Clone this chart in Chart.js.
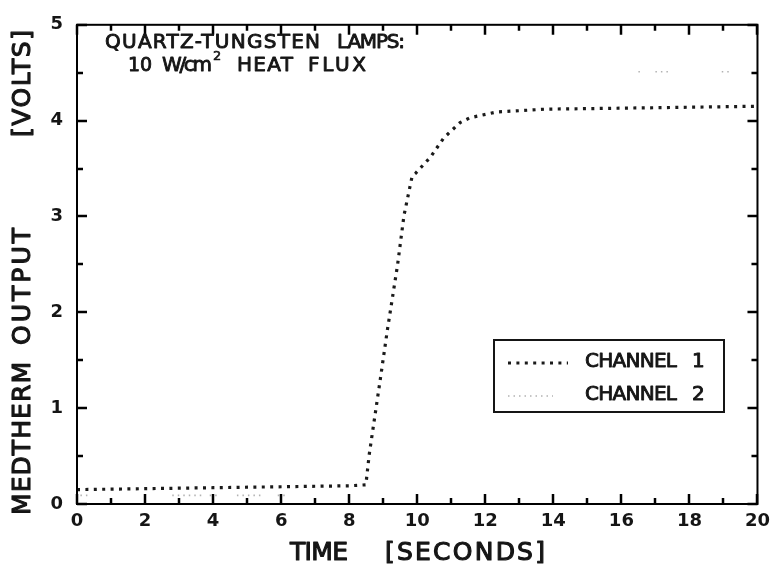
<!DOCTYPE html>
<html>
<head>
<meta charset="utf-8">
<title>Medtherm output vs time</title>
<script src="https://cdn.jsdelivr.net/npm/chart.js@4/dist/chart.umd.min.js"></script>
<style>
  html, body { margin: 0; padding: 0; background: #fff; }
  #wrap { width: 777px; height: 573px; position: relative; }
</style>
</head>
<body>
<div id="wrap"><canvas id="chart" width="777" height="573"></canvas></div>
<script>
// Channel 1: sensor output (V) against time (s)
const timeCh1  = [0, 2, 4, 6, 8, 8.49, 8.59, 8.93, 9.12, 9.42, 9.61, 9.85, 9.95, 10.39, 10.78, 11.26, 11.55, 12.33, 13.79, 16, 18, 20];
const voltsCh1 = [0.15, 0.16, 0.17, 0.18, 0.19, 0.20, 0.52, 1.34, 1.81, 2.49, 3.01, 3.42, 3.45, 3.62, 3.82, 3.98, 4.03, 4.09, 4.12, 4.13, 4.14, 4.15];

// Channel 2: faint trace, only the recorded fragments (null = break in the trace)
const timeCh2  = [0.1, 0.4, 0.5, 2.8, 3.7, 3.75, 3.9, 4.2, 4.3, 4.7, 5.5, 5.6, 5.9, 6.2, 6.3, 16.5, 16.65, 16.7, 17.0, 17.4, 17.5, 18.95, 19.25];
const voltsCh2 = [0.09, 0.09, null, 0.09, 0.09, null, 0.09, 0.09, null, 0.09, 0.09, null, 0.09, 0.09, null, 4.51, 4.51, null, 4.51, 4.51, null, 4.51, 4.51];

const seriesNames = ['CHANNEL 1', 'CHANNEL 2'];
const timeTicks = [0, 2, 4, 6, 8, 10, 12, 14, 16, 18, 20];
const voltTicks = [0, 1, 2, 3, 4, 5];

const INK = '#151515';
const FONT = '"DejaVu Sans", "Liberation Sans", sans-serif';

// Draw one word so that it spans x0..x1, slightly emboldened with a thin stroke
function word(ctx, text, x0, x1, y, size) {
  ctx.save();
  ctx.font = size + 'px ' + FONT;
  ctx.textAlign = 'left';
  ctx.textBaseline = 'middle';
  if ('letterSpacing' in ctx) {
    ctx.letterSpacing = '0px';
    const w0 = ctx.measureText(text).width;
    const n = [...text].length;
    const ls = n > 1 ? (x1 - x0 - w0) / (n - 1) : 0;
    ctx.letterSpacing = ls.toFixed(2) + 'px';
  }
  ctx.lineWidth = size / 22;
  ctx.lineJoin = 'round';
  ctx.strokeText(text, x0, y);
  ctx.fillText(text, x0, y);
  ctx.restore();
}

// Pixel for a value on a scale, falling back to the scale's own extent
function pix(scale, v, lo, hi, p0, p1) {
  const p = scale.getPixelForValue(v);
  return Number.isFinite(p) ? p : p0 + (v - lo) / (hi - lo) * (p1 - p0);
}

// Box frame with inward ticks on all four sides
const boxTicks = {
  id: 'boxTicks',
  afterDraw(chart) {
    const ctx = chart.ctx;
    const a = chart.chartArea;
    const xs = chart.scales.x, ys = chart.scales.y;
    const tLo = timeTicks[0], tHi = timeTicks[timeTicks.length - 1];
    const vLo = voltTicks[0], vHi = voltTicks[voltTicks.length - 1];
    ctx.save();
    ctx.setLineDash([]);
    ctx.globalAlpha = 1;
    ctx.globalCompositeOperation = 'source-over';
    ctx.fillStyle = '#000';
    ctx.strokeStyle = '#000';
    ctx.lineCap = 'butt';
    ctx.lineWidth = 2.5;
    ctx.beginPath();
    for (let v = tLo; v <= tHi; v += 1) {
      const px = Math.round(pix(xs, v, tLo, tHi, a.left, a.right));
      const len = (v % 2 === 0) ? 10 : 6;
      ctx.moveTo(px, a.bottom); ctx.lineTo(px, a.bottom - len);
      ctx.moveTo(px, a.top); ctx.lineTo(px, a.top + len);
    }
    for (let k = vLo * 2; k <= vHi * 2; k += 1) {
      const py = Math.round(pix(ys, k / 2, vLo, vHi, a.bottom, a.top));
      const len = (k % 2 === 0) ? 10 : 6;
      ctx.moveTo(a.left, py); ctx.lineTo(a.left + len, py);
      ctx.moveTo(a.right, py); ctx.lineTo(a.right - len, py);
    }
    ctx.stroke();
    ctx.lineWidth = 2;
    ctx.strokeRect(a.left, a.top, a.right - a.left, a.bottom - a.top);
    ctx.restore();
  }
};

// Titles, annotation and key
const plotterText = {
  id: 'plotterText',
  afterDraw(chart) {
    const ctx = chart.ctx;
    ctx.save();
    ctx.setLineDash([]);
    ctx.strokeStyle = INK;
    ctx.fillStyle = INK;

    // annotation
    word(ctx, 'QUARTZ-TUNGSTEN', 105, 320, 43, 20);
    word(ctx, 'LAMPS:', 337, 405, 43, 20);
    word(ctx, '10', 128, 152, 66, 19);
    word(ctx, 'W/cm', 162, 212, 66, 20);
    word(ctx, '2', 213, 221, 57, 13);
    word(ctx, 'HEAT', 237, 293, 66, 20);
    word(ctx, 'FLUX', 308, 366, 66, 20);

    // key
    const kx0 = 494, ky0 = 340, kx1 = 724, ky1 = 412;
    ctx.fillStyle = '#fff';
    ctx.fillRect(kx0, ky0, kx1 - kx0, ky1 - ky0);
    ctx.fillStyle = INK;
    ctx.lineWidth = 2;
    ctx.strokeRect(kx0, ky0, kx1 - kx0, ky1 - ky0);
    const rows = [363, 396];
    chart.data.datasets.forEach((ds, i) => {
      ctx.save();
      ctx.strokeStyle = ds.borderColor;
      ctx.lineWidth = ds.borderWidth;
      ctx.setLineDash(ds.borderDash || []);
      ctx.beginPath();
      ctx.moveTo(508, rows[i]);
      ctx.lineTo(i === 0 ? 568 : 553, rows[i]);
      ctx.stroke();
      ctx.restore();
      const parts = ds.label.split(' ');
      word(ctx, parts[0], 585, 677, rows[i] - 1, 20);
      word(ctx, parts[1], 692, 703, rows[i] - 1, 20);
    });

    // axis titles
    word(ctx, 'TIME', 290, 348, 553, 25);
    word(ctx, '[SECONDS]', 385, 545, 553, 25);

    ctx.save();
    ctx.translate(23, 0);
    ctx.rotate(-Math.PI / 2);
    // rotated frame: x runs upward from the bottom of the page (x = -pageY)
    word(ctx, 'MEDTHERM', -515, -362, 0, 25);
    word(ctx, 'OUTPUT', -345, -228, 0, 25);
    word(ctx, '[VOLTS]', -137, -30, 0, 25);
    ctx.restore();

    ctx.restore();
  }
};

const toPoints = (tv, vv) => tv.map((x, i) => ({ x, y: vv[i] }));

new Chart(document.getElementById('chart'), {
  type: 'scatter',
  data: {
    datasets: [
      {
        label: seriesNames[0],
        data: toPoints(timeCh1, voltsCh1),
        showLine: true,
        borderColor: '#1a1a1a',
        borderWidth: 3.2,
        borderDash: [3, 5.4],
        pointRadius: 0,
        tension: 0
      },
      {
        label: seriesNames[1],
        data: toPoints(timeCh2, voltsCh2),
        showLine: true,
        spanGaps: false,
        borderColor: 'rgba(0,0,0,0.3)',
        borderWidth: 1.6,
        borderDash: [1.5, 4],
        pointRadius: 0,
        tension: 0
      }
    ]
  },
  options: {
    responsive: false,
    animation: false,
    devicePixelRatio: 1,
    layout: { padding: { top: 15, right: 14, left: 0, bottom: 0 } },
    plugins: { legend: { display: false }, tooltip: { enabled: false } },
    scales: {
      x: {
        type: 'linear',
        min: timeTicks[0],
        max: timeTicks[timeTicks.length - 1],
        afterBuildTicks(s) { s.ticks = timeTicks.map(v => ({ value: v })); },
        ticks: { font: { family: FONT, size: 18, weight: 'bold' }, color: INK, padding: 7, maxRotation: 0 },
        grid: { display: false, drawTicks: false },
        border: { display: false },
        afterFit(s) { s.height = 69; }
      },
      y: {
        type: 'linear',
        min: voltTicks[0],
        max: voltTicks[voltTicks.length - 1],
        afterBuildTicks(s) { s.ticks = voltTicks.map(v => ({ value: v })); },
        ticks: { font: { family: FONT, size: 18, weight: 'bold' }, color: INK, padding: 14 },
        grid: { display: false, drawTicks: false },
        border: { display: false },
        afterFit(s) { s.width = 77; }
      }
    }
  },
  plugins: [boxTicks, plotterText]
});
</script>
</body>
</html>
